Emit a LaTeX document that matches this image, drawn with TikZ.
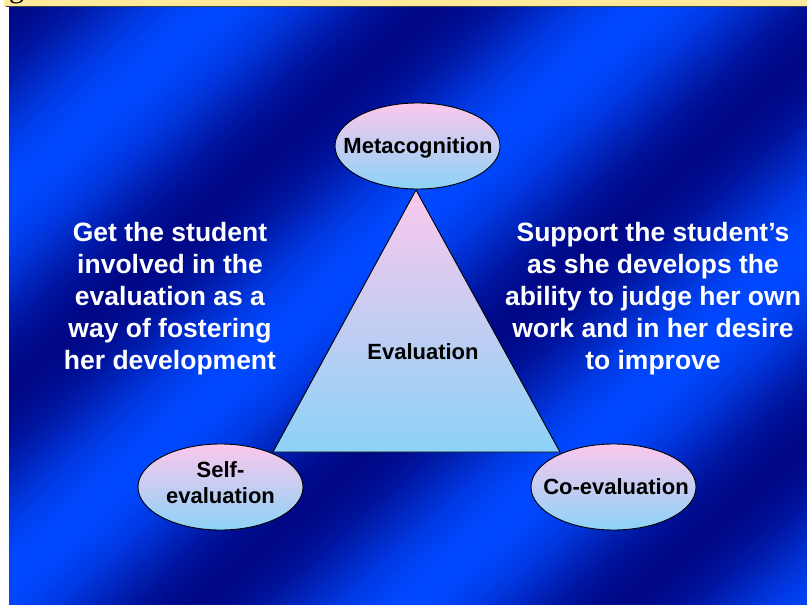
\documentclass[tikz,border=0pt]{standalone}
\usepackage{fontspec}
\usetikzlibrary{shapes.geometric}
\setmainfont{Liberation Sans}
\newfontfamily\gfont{Liberation Serif}
\definecolor{dk}{RGB}{0,8,135}
\definecolor{br}{RGB}{0,72,255}
\definecolor{pk}{RGB}{252,200,236}
\definecolor{lb}{RGB}{140,210,248}
\definecolor{barY}{RGB}{255,234,155}
\tikzset{
  bubble/.style={ellipse, draw=black, line width=0.9pt, top color=pk, bottom color=lb,
    minimum width=165pt, minimum height=86pt, inner sep=0pt},
  lbl/.style={align=center, inner sep=0pt, text=black,
    font=\bfseries\fontsize{22}{26}\selectfont},
  sidetext/.style={text=white, align=center, anchor=north, inner sep=0pt,
    font=\bfseries\fontsize{26.5}{32}\selectfont},
  tri/.style={draw=black, line width=0.9pt, top color=pk, bottom color=lb}
}
\begin{document}
\begin{tikzpicture}[x=1pt,y=-1pt]
\useasboundingbox (0,0) rectangle (807,605);
\fill[white] (0,0) rectangle (807,605);
% blue diagonal banded background
\begin{scope}
  \clip (9,7) rectangle (807,605);
  \foreach \s in {8,12,...,1340} {
    \pgfmathsetmacro\t{50*(1-cos(0.935065*(\s-10)))}
    \fill[br!\t!dk] (-50,\s+45) -- (850,\s-765) -- (850,\s-760) -- (-50,\s+50) -- cycle;
  }
\end{scope}
% top yellow bar
\fill[barY] (4,0) rectangle (807,7);
\draw[black!75, line width=0.7pt] (6,6.8) -- (807,6.8);
\begin{scope}
  \clip (0,0) rectangle (807,6.5);
  \node[anchor=base west, inner sep=0pt, font=\gfont\fontsize{30}{30}\selectfont] (g) at (9,-2.5) {g};
\end{scope}
% triangle
\coordinate (apex) at (416,190);
\coordinate (bl) at (273,452);
\coordinate (brc) at (560,452);
\draw[tri] (apex) -- (bl) -- (brc) -- cycle;
\node[lbl] (eval) at (423,351.5) {Evaluation};
% ellipses
\node[bubble] (meta) at (417.5,146) {};
\node[lbl] (metaT) at (418,147.6) {Metacognition};
\node[bubble] (self) at (220.5,487) {};
\node[lbl] (selfT) at (220.5,483) {Self-\\evaluation};
\node[bubble] (coev) at (613.5,487) {};
\node[lbl] (coevT) at (616,487) {Co-evaluation};
% side texts
\node[sidetext] (left) at (170,222) {Get the student\\involved in the\\evaluation as a\\way of fostering\\her development};
\node[sidetext] (right) at (653,222) {Support the student’s\\as she develops the\\ability to judge her own\\work and in her desire\\to improve};
\end{tikzpicture}
\end{document}
